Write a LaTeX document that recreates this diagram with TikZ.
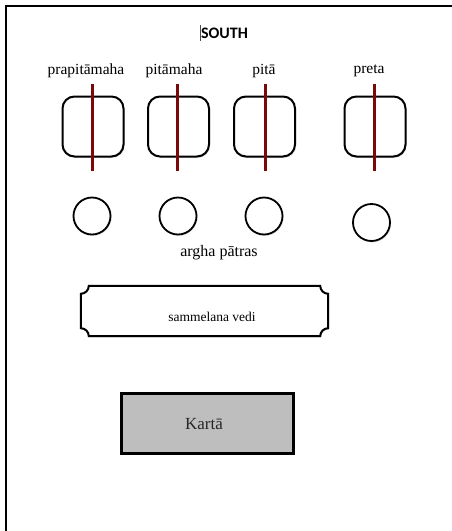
\documentclass[tikz,border=0pt]{standalone}
\usepackage{fontspec}
\setmainfont{Liberation Serif}
\newfontfamily\headfont{Carlito}
\usetikzlibrary{shadows}
\definecolor{stickred}{HTML}{7A0A0A}
\definecolor{kartafill}{HTML}{BEBEBE}
\begin{document}
\begin{tikzpicture}[x=1pt,y=-1pt,
  softshadow/.style={drop shadow={opacity=0.22,shadow xshift=1pt,shadow yshift=-1.5pt}},
  seat/.style={draw,line width=2pt,rounded corners=12pt,minimum width=61pt,minimum height=60pt,inner sep=0pt,fill=white,softshadow},
  bowl/.style={draw,line width=1.8pt,circle,minimum size=37pt,inner sep=0pt,fill=white,softshadow},
  stick/.style={draw=stickred,line width=3pt},
  ancestor/.style={font=\fontsize{15.5}{18}\selectfont,inner sep=0pt},
  frameline/.style={line width=2pt}
]
\useasboundingbox (0,0) rectangle (452,531);

% page frame (top and left edges)
\coordinate (ftl) at (6,6);
\coordinate (ftr) at (452,6);
\coordinate (fbl) at (6,531);
\draw[frameline] (ftr) -- (ftl) -- (fbl);

% heading with text caret
\node[font=\headfont\bfseries\fontsize{16}{18}\selectfont,inner sep=0pt] (south) at (224.5,33) {SOUTH};
\draw[line width=0.6pt,black!70] ([xshift=-0.5pt,yshift=8pt]south.west) -- ([xshift=-0.5pt,yshift=-8pt]south.west);

% names of the ancestors
\node[ancestor] (n1) at (86,71) {prapitāmaha};
\node[ancestor] (n2) at (174,71) {pitāmaha};
\node[ancestor] (n3) at (264,71) {pitā};
\node[ancestor] (n4) at (369,71) {preta};

% seats
\node[seat] (s1) at (93,126.5) {};
\node[seat] (s2) at (178.5,126.5) {};
\node[seat] (s3) at (264.5,126.5) {};
\node[seat] (s4) at (375,126.5) {};

% kusha blades across the seats
\foreach \i/\dx in {1/-1,2/-1.5,3/0.5,4/-1}{
  \draw[stick] ([xshift=\dx pt,yshift=12pt]s\i.north) -- ([xshift=\dx pt,yshift=-13pt]s\i.south);
}

% argha vessels
\node[bowl] (b1) at (92,216) {};
\node[bowl] (b2) at (178,216) {};
\node[bowl] (b3) at (264,216) {};
\node[bowl] (b4) at (371.5,222.5) {};
\node[inner sep=0pt,font=\fontsize{16}{18}\selectfont] (argha) at (219,253) {argha pātras};

% sammelana vedi plaque
\node[inner sep=0pt,minimum width=247pt,minimum height=50pt] (vedi) at (204.5,311) {};
\path[fill=white,draw,line width=2pt,softshadow]
  ([xshift=8pt]vedi.north west) -- ([xshift=-8pt]vedi.north east)
  .. controls ([xshift=-8pt,yshift=-4.4pt]vedi.north east) and ([xshift=-4.4pt,yshift=-8pt]vedi.north east) .. ([yshift=-8pt]vedi.north east)
  -- ([yshift=8pt]vedi.south east)
  .. controls ([xshift=-4.4pt,yshift=8pt]vedi.south east) and ([xshift=-8pt,yshift=4.4pt]vedi.south east) .. ([xshift=-8pt]vedi.south east)
  -- ([xshift=8pt]vedi.south west)
  .. controls ([xshift=8pt,yshift=4.4pt]vedi.south west) and ([xshift=4.4pt,yshift=8pt]vedi.south west) .. ([yshift=8pt]vedi.south west)
  -- ([yshift=-8pt]vedi.north west)
  .. controls ([xshift=4.4pt,yshift=-8pt]vedi.north west) and ([xshift=8pt,yshift=-4.4pt]vedi.north west) .. ([xshift=8pt]vedi.north west)
  -- cycle;
\node[inner sep=0pt,font=\fontsize{13.5}{16}\selectfont] (vedilabel) at (212,317) {sammelana vedi};

% the performer
\node[draw,line width=2.6pt,fill=kartafill,minimum width=172pt,minimum height=60pt,inner sep=0pt,
      drop shadow={opacity=0.3,shadow xshift=1pt,shadow yshift=-1.5pt}] (karta) at (207.5,423.5) {};
\node[inner sep=0pt,font=\fontsize{17}{20}\selectfont,text=black!85] (kartalabel) at (204,424) {Kartā};
\end{tikzpicture}
\end{document}
